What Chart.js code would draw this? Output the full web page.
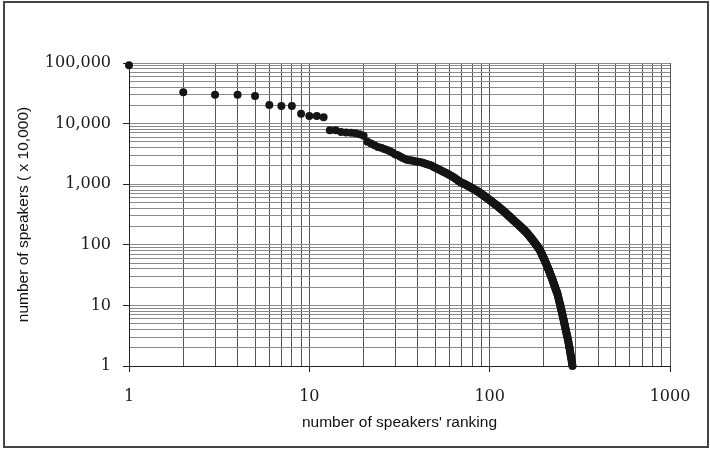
<!DOCTYPE html>
<html><head><meta charset="utf-8">
<script src="https://cdn.jsdelivr.net/npm/chart.js@4"></script>
<style>
html,body{margin:0;padding:0;background:#fff;}
#wrap{position:relative;width:710px;height:449px;overflow:hidden;}
#frame{position:absolute;left:3px;top:1px;width:706px;height:447px;border:2px solid #444;box-sizing:border-box;pointer-events:none;}
canvas{display:block;}
</style></head>
<body><div id="wrap"><canvas id="c" width="710" height="449"></canvas><div id="frame"></div></div>
<script>
// number of speakers (x 10,000) for languages ranked 1, 2, 3, ...
const speakers = [
  92000, 33000, 30000, 30000, 28500, 20300, 19500, 19500, 14600, 13300,
  13300, 12700, 7800, 7800, 7300, 7150, 7050, 6900, 6650, 6300,
  5000, 4700, 4400, 4100, 4000, 3800, 3670, 3500, 3300, 3100,
  3000, 2850, 2700, 2600, 2500, 2480, 2450, 2420, 2380, 2340,
  2320, 2280, 2230, 2180, 2130, 2090, 2060, 1990, 1930, 1870,
  1810, 1760, 1710, 1670, 1620, 1580, 1540, 1500, 1460, 1420,
  1380, 1340, 1300, 1260, 1220, 1180, 1140, 1110, 1080,
  1060, 1040, 1020, 1000, 975, 955, 935, 915, 895,
  877, 858, 840, 822, 805, 788, 771, 755, 739, 723, 708,
  692, 676, 660, 645, 630, 616, 602, 588, 574, 561, 548,
  536, 525, 513, 502, 491, 481, 470, 460, 450, 441, 431, 422, 413, 404,
  395, 387, 379, 370, 362, 355, 347, 340, 332, 325, 318, 311, 305, 298, 292, 286, 280, 274, 268, 262, 256,
  251, 246, 242, 237, 233, 228, 224, 220, 216, 212, 208, 204, 200, 196, 193, 189, 186, 182, 179, 175, 172, 169, 166, 163, 160, 157,
  154, 150, 147, 144, 140, 137, 134, 131, 128, 126, 123, 120, 118, 115, 112, 110, 107, 105, 103, 100, 98, 96, 94, 92, 90, 88, 86, 84, 82,
  79, 77, 74, 72, 69, 67, 65, 63, 61, 59, 57, 55, 53, 51, 50, 48, 46.5, 45, 43.5, 42, 40.5, 39, 38, 36.5, 35.5, 34,
  33, 31.5, 30.5, 29.5, 28.5, 27.5, 26.5, 25.5, 24.5, 23.5, 22.7, 21.9, 21.1, 20.3, 19.6, 18.9, 18.2, 17.6, 17, 16.5, 16,
  15.2, 14.5, 13.8, 13.1, 12.4, 11.8, 11.2, 10.7, 10.2, 9.7, 9.2, 8.7, 8.3, 7.9, 7.5, 7.1, 6.8, 6.4,
  6.1, 5.8, 5.5, 5.2, 4.9, 4.7, 4.5, 4.2, 4.0, 3.8, 3.6, 3.4, 3.3, 3.1, 3.0, 2.8, 2.7,
  2.5, 2.4, 2.2, 2.1, 2.0, 1.9, 1.75, 1.65, 1.55, 1.45, 1.35, 1.3, 1.2, 1.12, 1.05, 1.0
];
const xMajorTicks = [1, 10, 100, 1000];
const yMajorTicks = [1, 10, 100, 1000, 10000, 100000];
const xTitle = "number of speakers' ranking";
const yTitle = "number of speakers ( x 10,000)";

const points = speakers.map((v, i) => ({x: i + 1, y: v}));

function logTicks(majors) {
  const out = [];
  for (let i = 0; i < majors.length - 1; i++) {
    for (let m = 1; m <= 9; m++) out.push(majors[i] * m);
  }
  out.push(majors[majors.length - 1]);
  return out;
}
function isMajor(majors, v) { return majors.some(m => Math.abs(m - v) < 1e-9 * m); }

new Chart(document.getElementById('c'), {
  type: 'scatter',
  data: {
    datasets: [{
      data: points,
      backgroundColor: '#151515',
      borderWidth: 0,
      pointRadius: 4,
      clip: false
    }]
  },
  options: {
    responsive: false,
    animation: false,
    devicePixelRatio: 1,
    layout: {padding: {top: 63, right: 40, left: 0, bottom: 0}},
    plugins: {legend: {display: false}, tooltip: {enabled: false}},
    scales: {
      x: {
        type: 'logarithmic', min: 1, max: 1000, position: 'bottom',
        afterBuildTicks: s => { s.ticks = logTicks(xMajorTicks).map(v => ({value: v, major: isMajor(xMajorTicks, v)})); },
        afterFit: s => { s.height = 83; },
        ticks: {
          autoSkip: false, maxRotation: 0, padding: 15,
          font: {family: 'DejaVu Serif', size: 16}, color: '#1a1a1a',
          callback: v => isMajor(xMajorTicks, v) ? String(v) : ''
        },
        grid: {
          color: '#555', lineWidth: 1, tickLength: 6,
          tickColor: c => (c.tick && isMajor(xMajorTicks, c.tick.value)) ? '#222' : 'rgba(0,0,0,0)'
        },
        border: {color: '#222', width: 1},
        title: {display: true, text: xTitle, color: '#111',
          font: {family: 'Liberation Sans', size: 15.5}, padding: {top: 0, bottom: 17}}
      },
      y: {
        type: 'logarithmic', min: 1, max: 100000, position: 'left',
        afterBuildTicks: s => { s.ticks = logTicks(yMajorTicks).map(v => ({value: v, major: isMajor(yMajorTicks, v)})); },
        afterFit: s => { s.width = 129; },
        ticks: {
          autoSkip: false, padding: 12,
          font: {family: 'DejaVu Serif', size: 16}, color: '#1a1a1a',
          callback: v => isMajor(yMajorTicks, v) ? Number(v).toLocaleString('en-US') : ''
        },
        grid: {
          color: '#8a8a8a', lineWidth: 1, tickLength: 6,
          tickColor: c => (c.tick && isMajor(yMajorTicks, c.tick.value)) ? '#222' : 'rgba(0,0,0,0)'
        },
        border: {color: '#222', width: 1},
        title: {display: true, text: yTitle, color: '#111',
          font: {family: 'Liberation Sans', size: 15.5}, padding: {top: 14, bottom: 0}}
      }
    }
  }
});
</script>
</body></html>
